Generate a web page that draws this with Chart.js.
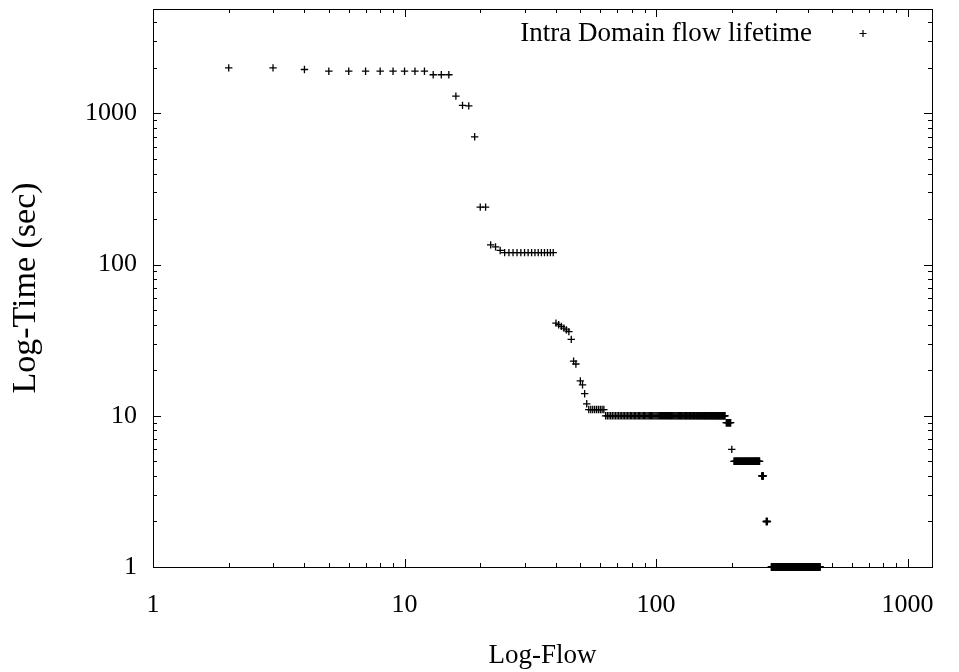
<!DOCTYPE html>
<html>
<head>
<meta charset="utf-8">
<title>Intra Domain flow lifetime</title>
<script src="https://cdn.jsdelivr.net/npm/chart.js@4.4.0/dist/chart.umd.min.js"></script>
<style>
  html, body { margin: 0; padding: 0; background: #fff; }
  #wrap { width: 959px; height: 672px; position: relative; }
</style>
</head>
<body>
<div id="wrap"><canvas id="flowChart"></canvas></div>
<script>
// ─── DATA ───────────────────────────────────────────────────────
// single points: flow rank -> lifetime in seconds
const flowIdx = [2, 3, 4, 5, 6, 7, 8, 9, 10, 11, 12, 13, 14, 15,
                 16, 17, 18, 19, 20, 21, 22, 23, 24,
                 40, 41, 42, 43, 44, 45, 46, 47, 48, 50, 51, 52, 53, 200];
const lifeSec = [2000, 2000, 1950, 1900, 1900, 1900, 1900, 1900, 1900, 1900, 1900, 1800, 1800, 1800,
                 1300, 1130, 1120, 700, 240, 240, 135, 131, 124,
                 41, 40, 39, 38, 37, 36, 32, 23, 22, 17, 16, 14, 12, 6];
// flat runs (solid bands in the picture): first rank, last rank, lifetime
const runFirst = [25, 54, 63, 190, 204, 263, 274, 287];
const runLast  = [39, 62, 188, 198, 258, 267, 277, 449];
const runTime  = [120, 11, 10, 9, 5, 4, 2, 1];

const X_TICKS = [1, 10, 100, 1000];
const Y_TICKS = [1, 10, 100, 1000];
const SERIES_LABEL = 'Intra Domain flow lifetime';

// ─── BUILD POINTS ───────────────────────────────────────────────
const points = flowIdx.map((x, i) => ({ x: x, y: lifeSec[i] }));
runFirst.forEach((first, i) => {
  for (let x = first; x <= runLast[i]; x++) points.push({ x: x, y: runTime[i] });
});
points.sort((a, b) => a.x - b.x);

const SERIF = '"Liberation Serif", "Times New Roman", serif';

function isDecade(v) {
  const l = Math.log10(v);
  return Math.abs(l - Math.round(l)) < 1e-9;
}
function isNiceTick(v) {
  const p = Math.pow(10, Math.floor(Math.log10(v) + 1e-9));
  const m = v / p;
  return Math.abs(m - Math.round(m)) < 1e-6;
}

// gnuplot style frame: border, inward ticks on all four sides, legend inside
const framePlugin = {
  id: 'frame',
  afterDraw(chart) {
    const { ctx, chartArea: a, scales } = chart;
    ctx.save();
    ctx.strokeStyle = '#000';
    ctx.lineWidth = 1;
    ctx.strokeRect(a.left + 0.5, a.top + 0.5, a.right - a.left, a.bottom - a.top);

    ctx.beginPath();
    scales.x.ticks.forEach(t => {
      if (!isNiceTick(t.value)) return;
      const px = Math.round(scales.x.getPixelForValue(t.value)) + 0.5;
      const len = isDecade(t.value) ? 8 : 4;
      ctx.moveTo(px, a.bottom); ctx.lineTo(px, a.bottom - len);
      ctx.moveTo(px, a.top);    ctx.lineTo(px, a.top + len);
    });
    scales.y.ticks.forEach(t => {
      if (!isNiceTick(t.value)) return;
      const py = Math.round(scales.y.getPixelForValue(t.value)) + 0.5;
      const len = isDecade(t.value) ? 8 : 4;
      ctx.moveTo(a.left, py);  ctx.lineTo(a.left + len, py);
      ctx.moveTo(a.right, py); ctx.lineTo(a.right - len, py);
    });
    ctx.stroke();

    // legend: text right-aligned, sample marker to its right
    ctx.fillStyle = '#000';
    ctx.font = '27px ' + SERIF;
    ctx.textAlign = 'right';
    ctx.textBaseline = 'middle';
    ctx.fillText(SERIES_LABEL, 812, 34);
    ctx.beginPath();
    ctx.moveTo(859.5, 33.5); ctx.lineTo(866.5, 33.5);
    ctx.moveTo(863, 30); ctx.lineTo(863, 37);
    ctx.lineWidth = 1.2;
    ctx.stroke();
    ctx.restore();
  }
};

function tickLabel(v) {
  return X_TICKS.concat(Y_TICKS).some(t => Math.abs(t - v) < 1e-9) ? String(v) : '';
}

new Chart(document.getElementById('flowChart').getContext('2d'), {
  type: 'scatter',
  data: {
    datasets: [{
      label: SERIES_LABEL,
      data: points,
      pointStyle: 'cross',
      pointRadius: 3.7,
      pointHoverRadius: 3.7,
      borderColor: '#000',
      backgroundColor: '#000',
      pointBorderWidth: 1.3,
      clip: false,
    }],
  },
  options: {
    responsive: true,
    maintainAspectRatio: false,
    animation: false,
    layout: { padding: { top: 9, right: 27, left: 0, bottom: 0 } },
    plugins: {
      legend: { display: false },
      tooltip: { enabled: false },
    },
    scales: {
      x: {
        type: 'logarithmic',
        min: 1,
        max: 1250,
        grid: { display: false, drawTicks: false },
        border: { display: false },
        ticks: {
          autoSkip: false,
          maxRotation: 0,
          padding: 23,
          color: '#000',
          font: { family: SERIF, size: 26 },
          callback: tickLabel,
        },
        title: {
          display: true,
          text: 'Log-Flow',
          color: '#000',
          font: { family: SERIF, size: 27 },
          padding: { top: 0, bottom: 0 },
        },
        afterFit(scale) {
          scale.height = 105;
          scale.paddingLeft = 0;
          scale.paddingRight = 0;
        },
      },
      y: {
        type: 'logarithmic',
        min: 1,
        max: 4900,
        grid: { display: false, drawTicks: false },
        border: { display: false },
        ticks: {
          autoSkip: false,
          padding: 16,
          color: '#000',
          font: { family: SERIF, size: 26 },
          callback: tickLabel,
        },
        title: {
          display: true,
          text: 'Log-Time (sec)',
          color: '#000',
          font: { family: SERIF, size: 34 },
          padding: { top: 6, bottom: 0 },
        },
        afterFit(scale) {
          scale.width = 153;
          scale.paddingTop = 0;
          scale.paddingBottom = 0;
        },
      },
    },
  },
  plugins: [framePlugin],
});
</script>
</body>
</html>
